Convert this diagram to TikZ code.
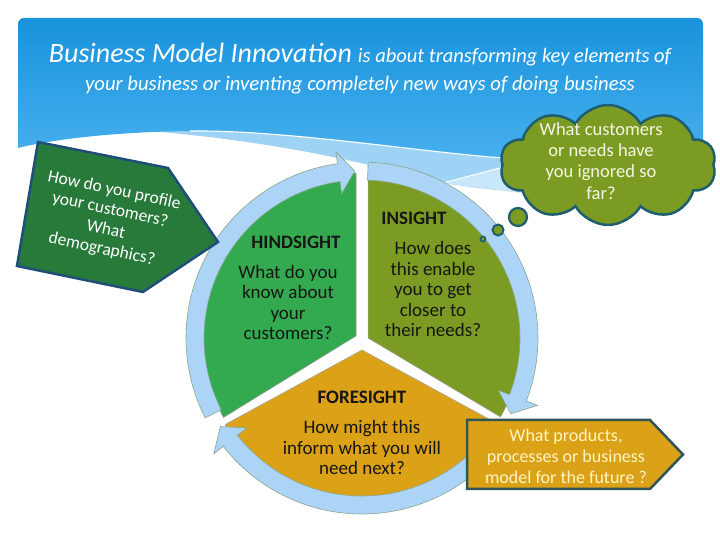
\documentclass[tikz,border=0pt]{standalone}
\usepackage{fontspec}
\setmainfont{Carlito}
\usetikzlibrary{shapes.symbols}
\definecolor{bannertop}{HTML}{1893DC}
\definecolor{bannerbot}{HTML}{4DB3F0}
\definecolor{bandblue}{HTML}{9ED3F5}
\definecolor{bandlight}{HTML}{C9E7FA}
\definecolor{pentgreen}{HTML}{287A3A}
\definecolor{pentedge}{HTML}{1F4E79}
\definecolor{hindgreen}{HTML}{34AA50}
\definecolor{insolive}{HTML}{7B9B22}
\definecolor{foreorange}{HTML}{DBA117}
\definecolor{ringblue}{HTML}{ABD4F6}
\definecolor{ringedge}{HTML}{88A78C}
\definecolor{sliceedge}{HTML}{A0A0A0}
\definecolor{cloudedge}{HTML}{1E5E6E}
\definecolor{boxedge}{HTML}{2E5658}
\definecolor{txtdark}{HTML}{161616}
\definecolor{cloudtxt}{HTML}{F6F6E6}
\definecolor{boxtxt}{HTML}{FFF5C4}
\newcommand{\ringarrow}[3]{%
  \draw[ringarr] (#1:176pt) arc[start angle=#1, end angle=#2, radius=176pt]
    -- (#2:188pt) -- (#3:167pt) -- (#2:146pt) -- (#2:158pt)
    arc[start angle=#2, end angle=#1, radius=158pt] -- cycle;}
\begin{document}
\begin{tikzpicture}[x=1pt,y=1pt,
  ringarr/.style={fill=ringblue, draw=ringedge, line width=0.6pt, line join=miter},
  slicepart/.style={draw=sliceedge, line width=0.5pt},
  headtxt/.style={font=\bfseries\fontsize{19}{22}\selectfont, text=txtdark, inner sep=0pt},
  bodytxt/.style={font=\fontsize{19}{20.5}\selectfont, text=txtdark, align=center, inner sep=0pt},
  thick border/.style={line width=2.5pt, line join=miter}]
\useasboundingbox (0,0) rectangle (720,540);
\fill[white] (0,0) rectangle (720,540);
% light band below banner
\fill[bandblue] (150,409) -- (150,425) -- (703,425) -- (703,350)
  .. controls (600,340) and (520,345) .. (443,357)
  .. controls (380,372) and (300,396) .. (150,409) -- cycle;
\fill[bandlight] (443,357) -- (530,380) -- (530,346) -- cycle;
\draw[white, line width=1pt] (443,357) -- (530,380);
% banner
\shade[top color=bannertop, bottom color=bannerbot]
  (18,392) -- (18,516) arc[start angle=180, end angle=90, radius=6pt]
  -- (697,522) arc[start angle=90, end angle=0, radius=6pt]
  -- (703,365) .. controls (620,372) and (560,379) .. (490,383)
  .. controls (400,391) and (280,410) .. (190,409)
  .. controls (110,408) and (50,400) .. (18,392) -- cycle;
\draw[white, line width=1.1pt] (703,365) .. controls (620,372) and (560,379) .. (490,383)
  .. controls (400,391) and (280,410) .. (190,409);
% title
\node[text=white, font=\itshape, inner sep=0pt] (title1) at (360,485)
  {{\fontsize{28}{32}\selectfont Business Model Innovation\/}\hspace{6pt}{\fontsize{20.5}{24}\selectfont is about transforming key elements of}};
\node[text=white, font=\itshape\fontsize{20.7}{24}\selectfont, inner sep=0pt] (title2) at (360,455)
  {your business or inventing completely new ways of doing business};
% slices
\filldraw[slicepart, fill=hindgreen] (356,204) -- (356,367)
  arc[start angle=90, end angle=210, x radius=153pt, y radius=163pt] -- cycle;
\filldraw[slicepart, fill=insolive] (368,202) -- (368,360)
  arc[start angle=90, end angle=-30, x radius=153pt, y radius=158pt] -- cycle;
\filldraw[slicepart, fill=foreorange] (362,190) -- (225.2,115.5)
  arc[start angle=210, end angle=330, x radius=158pt, y radius=149pt] -- cycle;
% ring arrows
\begin{scope}[shift={(362,202)}]
  \ringarrow{207}{98}{92.5}
  \ringarrow{88}{-21}{-27}
  \ringarrow{-40}{-142}{-148}
\end{scope}
% slice texts
\node[headtxt] (hindhead) at (296,298) {HINDSIGHT};
\node[bodytxt] (hindbody) at (288,237.5) {What do you\\know about\\your\\customers?};
\node[headtxt] (inshead) at (414,322) {INSIGHT};
\node[bodytxt] (insbody) at (433,251) {How does\\this enable\\you to get\\closer to\\their needs?};
\node[headtxt] (forehead) at (362,143) {FORESIGHT};
\node[bodytxt] (forebody) at (362,92.5) {How might this\\inform what you will\\need next?};
% left pentagon
\filldraw[fill=pentgreen, draw=pentedge, thick border]
  (38,398) -- (168,372) -- (218,298) -- (143,248) -- (17,274) -- cycle;
\node[rotate=-12, text=white, align=center, font=\fontsize{17.5}{20}\selectfont, inner sep=0pt]
  (pentxt) at (108,320) {How do you profile\\your customers?\\What\\demographics?};
% cloud
\node[cloud, cloud puffs=10, cloud puff arc=120, cloud ignores aspect,
  minimum width=216pt, minimum height=120pt, inner sep=0pt,
  fill=insolive, draw=cloudedge, line width=2.5pt] (cloud) at (608,375) {};
\node[circle, minimum size=18pt, inner sep=0pt, fill=insolive, draw=cloudedge, line width=2.2pt] (bub1) at (518,323) {};
\node[circle, minimum size=11pt, inner sep=0pt, fill=insolive, draw=cloudedge, line width=2pt] (bub2) at (498,310) {};
\node[circle, minimum size=5pt, inner sep=0pt, fill=insolive, draw=cloudedge, line width=1.6pt] (bub3) at (483,301) {};
\node[text=cloudtxt, align=center, font=\fontsize{18.5}{21.3}\selectfont, inner sep=0pt]
  (cloudtext) at (601,379) {What customers\\or needs have\\you ignored so\\far?};
% right box
\filldraw[fill=foreorange, draw=boxedge, thick border]
  (467,120) -- (650,120) -- (683,85.5) -- (650,51) -- (467,51) -- cycle;
\node[text=boxtxt, align=center, font=\fontsize{18}{21}\selectfont, inner sep=0pt]
  (boxtext) at (566,84) {What products,\\processes or business\\model for the future ?};
\end{tikzpicture}
\end{document}
